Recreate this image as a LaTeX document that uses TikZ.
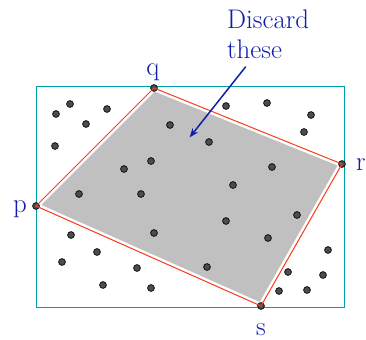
\documentclass[tikz,border=0pt]{standalone}
\usetikzlibrary{arrows.meta}
\definecolor{hullred}{RGB}{250,60,30}
\definecolor{hullgray}{RGB}{192,192,192}
\definecolor{boxteal}{RGB}{0,160,168}
\definecolor{dotgray}{RGB}{77,77,77}
\definecolor{labelblue}{RGB}{15,30,170}
\begin{document}
\begin{tikzpicture}[x=1bp, y=-1bp, font=\fontsize{27}{30}\selectfont,
    pt/.style={fill=dotgray, draw=black, line width=0.7bp},
    lbl/.style={text=labelblue, inner sep=0pt}]
  \useasboundingbox (0,0) rectangle (366,340);
  \coordinate (p) at (36,206);
  \coordinate (q) at (154,88);
  \coordinate (r) at (342,164);
  \coordinate (s) at (261,306);
  \fill[fill=hullgray] (p) -- (q) -- (r) -- (s) -- cycle;
  \draw[white, line width=6bp] (p) -- (q) -- (r) -- (s) -- cycle;
  \draw[boxteal, line width=1bp] (36,86) rectangle (344,307);
  \filldraw[pt] (56,114) circle (3.4);
  \filldraw[pt] (70,104) circle (3.4);
  \filldraw[pt] (107,109) circle (3.4);
  \filldraw[pt] (86,124) circle (3.4);
  \filldraw[pt] (55,146) circle (3.4);
  \filldraw[pt] (170,125) circle (3.4);
  \filldraw[pt] (151,161) circle (3.4);
  \filldraw[pt] (124,169) circle (3.4);
  \filldraw[pt] (79,194) circle (3.4);
  \filldraw[pt] (141,194) circle (3.4);
  \filldraw[pt] (226,106) circle (3.4);
  \filldraw[pt] (267,103) circle (3.4);
  \filldraw[pt] (311,115) circle (3.4);
  \filldraw[pt] (304,132) circle (3.4);
  \filldraw[pt] (209,142) circle (3.4);
  \filldraw[pt] (272,167) circle (3.4);
  \filldraw[pt] (233,185) circle (3.4);
  \filldraw[pt] (71,235) circle (3.4);
  \filldraw[pt] (154,233) circle (3.4);
  \filldraw[pt] (97,252) circle (3.4);
  \filldraw[pt] (62,262) circle (3.4);
  \filldraw[pt] (137,268) circle (3.4);
  \filldraw[pt] (103,285) circle (3.4);
  \filldraw[pt] (151,288) circle (3.4);
  \filldraw[pt] (226,221) circle (3.4);
  \filldraw[pt] (297,215) circle (3.4);
  \filldraw[pt] (268,238) circle (3.4);
  \filldraw[pt] (207,267) circle (3.4);
  \filldraw[pt] (328,250) circle (3.4);
  \filldraw[pt] (288,272) circle (3.4);
  \filldraw[pt] (323,275) circle (3.4);
  \filldraw[pt] (279,291) circle (3.4);
  \filldraw[pt] (307,290) circle (3.4);
  \filldraw[pt] (p) circle (3.4);
  \filldraw[pt] (q) circle (3.4);
  \filldraw[pt] (r) circle (3.4);
  \filldraw[pt] (s) circle (3.4);
  \draw[hullred, line width=1bp] (p) -- (q) -- (r) -- (s) -- cycle;
  \node[lbl, anchor=base] (lp) at (20,212) {p};
  \node[lbl, anchor=base] (lq) at (153,75) {q};
  \node[lbl, anchor=base] (lr) at (361,170) {r};
  \node[lbl, anchor=base] (ls) at (261,335.5) {s};
  \node[lbl, anchor=north west, align=left] (note) at (227,9.3) {Discard\\these};
  \coordinate (tail) at (245.7,66.7);
  \coordinate (head) at (189.7,137.3);
  \draw[labelblue, line width=1.5bp, -{Stealth[length=9bp, width=7bp]}] (tail) -- (head);
\end{tikzpicture}
\end{document}
